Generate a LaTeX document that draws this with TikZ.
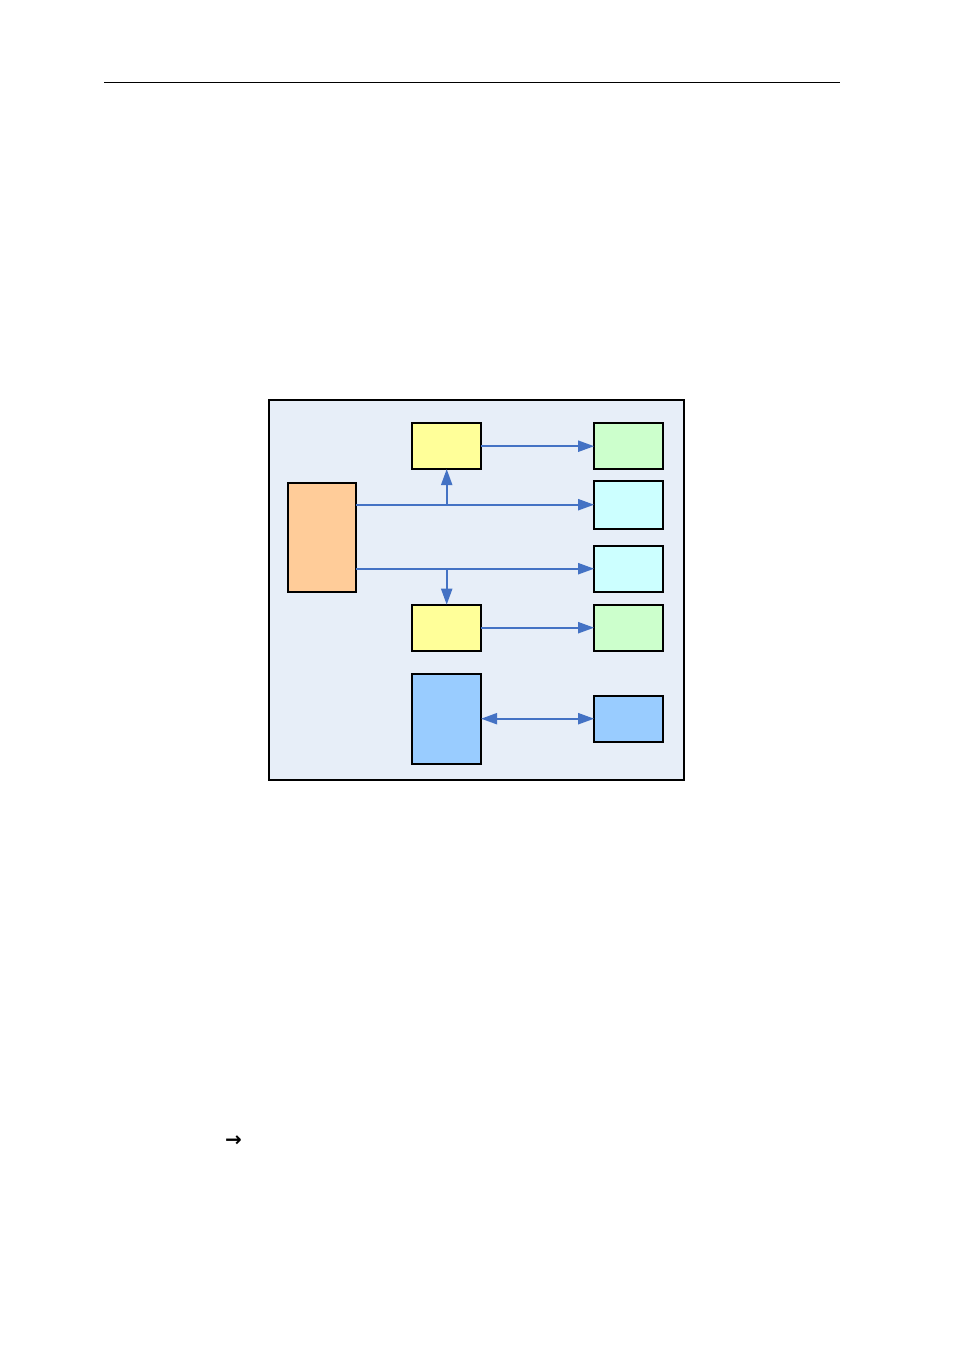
\documentclass[tikz,border=0pt]{standalone}
\usepackage{fontspec}
\newfontfamily\symfont{DejaVu Sans}
\usetikzlibrary{arrows.meta}
\definecolor{framebg}{RGB}{231,238,248}
\definecolor{lineblue}{RGB}{68,114,196}
\definecolor{cyellow}{RGB}{255,255,153}
\definecolor{cgreen}{RGB}{204,255,204}
\definecolor{ccyan}{RGB}{204,255,255}
\definecolor{corange}{RGB}{255,204,153}
\definecolor{cblue}{RGB}{153,204,255}
\tikzset{
  box/.style={draw=black, line width=1.8pt, inner sep=0pt, outer sep=0pt, minimum width=68.7pt},
  conn/.style={draw=lineblue, line width=2.1pt, -{Triangle[length=16pt,width=11pt]}},
  bconn/.style={draw=lineblue, line width=2.1pt, {Triangle[length=16pt,width=11pt]}-{Triangle[length=16pt,width=11pt]}}
}
\begin{document}
\begin{tikzpicture}[x=1pt,y=-1pt]
\useasboundingbox[fill=white] (0,0) rectangle (954,1351);
\draw[line width=1.2pt] (104,82.3) -- (840,82.3);
\draw[line width=1.8pt, fill=framebg] (269,400) rectangle (684,780);
\node[box, fill=corange, minimum height=109pt] (orange) at (322,537.2) {};
\node[box, fill=cyellow, minimum height=45.7pt] (ytop) at (446.7,446.2) {};
\node[box, fill=cgreen, minimum height=45.7pt] (gtop) at (628.5,446.2) {};
\node[box, fill=ccyan, minimum height=48pt] (cone) at (628.5,504.7) {};
\node[box, fill=ccyan, minimum height=46pt] (ctwo) at (628.5,568.7) {};
\node[box, fill=cyellow, minimum height=46pt] (ybot) at (446.7,627.7) {};
\node[box, fill=cgreen, minimum height=46pt] (gbot) at (628.5,627.7) {};
\node[box, fill=cblue, minimum height=90pt] (bbig) at (446.7,718.7) {};
\node[box, fill=cblue, minimum height=46pt] (bsmall) at (628.5,718.7) {};
\coordinate (jtop) at (ytop.south |- cone.west);
\coordinate (jbot) at (ybot.north |- ctwo.west);
\draw[conn] (orange.east |- cone.west) -- (cone.west);
\draw[conn] (orange.east |- ctwo.west) -- (ctwo.west);
\draw[conn] (jtop) -- (ytop.south);
\draw[conn] (jbot) -- (ybot.north);
\draw[conn] (ytop.east) -- (gtop.west);
\draw[conn] (ybot.east) -- (gbot.west);
\draw[bconn] (bbig.east) -- (bsmall.west);
\node[font=\symfont\fontsize{20}{20}\selectfont\bfseries, inner sep=0pt] (arr) at (233.5,1141) {→};
\end{tikzpicture}
\end{document}
